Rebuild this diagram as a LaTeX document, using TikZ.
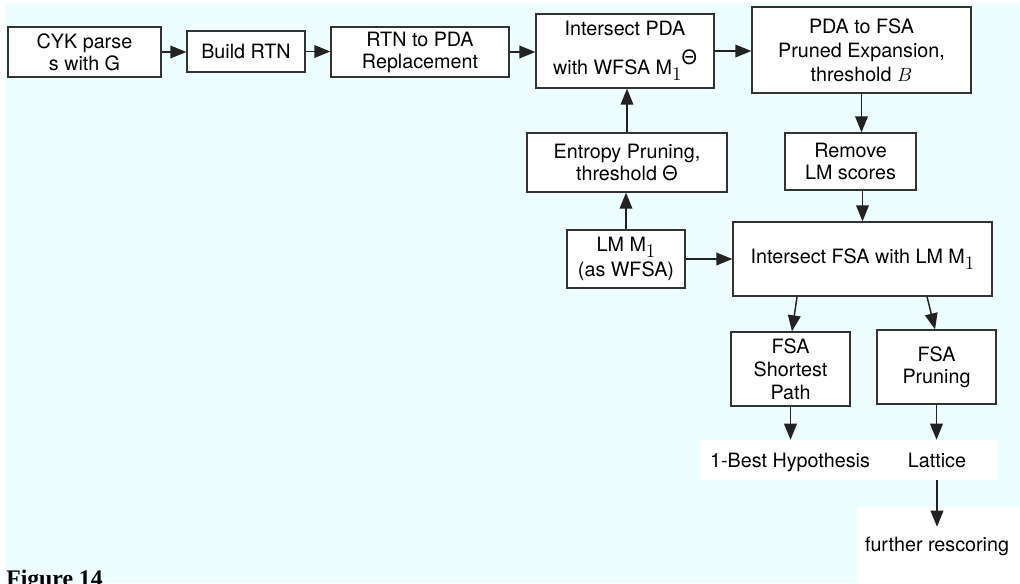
\documentclass[tikz,border=0pt]{standalone}
\usepackage{fontspec}
\setmainfont{TeX Gyre Heros}
\newfontfamily\figfont{Liberation Serif}
\usetikzlibrary{arrows.meta,calc}
\definecolor{bgc}{RGB}{238,254,255}
\definecolor{lc}{RGB}{51,51,51}
\definecolor{ac}{RGB}{34,34,34}
\newcommand\subone{\raisebox{-4.5pt}{$1$}}
\begin{document}
\begin{tikzpicture}[x=0.75pt,y=-0.75pt,
  box/.style={draw=lc,line width=1pt,fill=white,align=center,inner sep=0pt,font=\fontsize{14.8}{16.5}\selectfont},
  arr/.style={draw=ac,line width=1.1pt,-{Triangle[length=12pt,width=9.5pt]}},
  txt/.style={align=center,inner sep=0pt,font=\fontsize{14.8}{16.5}\selectfont}]
\useasboundingbox (0,0) rectangle (1020,583);
\clip (0,0) rectangle (1020,583);
\fill[bgc] (5,3) rectangle (1020,583);

% boxes
\node[box,minimum width=114.75pt,minimum height=37.5pt] (cyk) at (84.5,52) {CYK parse\\s with G};
\node[box,minimum width=88.5pt,minimum height=30.75pt] (build) at (246,51.5) {Build RTN};
\node[box,minimum width=133.5pt,minimum height=37.5pt] (rtn) at (420,52) {RTN to PDA\\Replacement};
\node[box,minimum width=133.5pt,minimum height=55.5pt] (ipda) at (625,51) {Intersect PDA\\[9.75pt]with WFSA M\subone\raisebox{7.5pt}{Θ}};
\node[box,minimum width=164.25pt,minimum height=64.5pt] (pfsa) at (861.5,50) {PDA to FSA\\[1.5pt]Pruned Expansion,\\[1.5pt]threshold $B$};
\node[box,minimum width=150pt,minimum height=44.25pt] (ent) at (627,162.5) {Entropy Pruning,\\threshold Θ};
\node[box,minimum width=98.25pt,minimum height=42.75pt] (rem) at (850.5,161.5) {Remove\\LM scores};
\node[box,minimum width=88.5pt,minimum height=43.5pt] (lm) at (626,259) {LM M\subone\\[2.25pt](as WFSA)};
\node[box,minimum width=194.25pt,minimum height=55.5pt] (ifsa) at (862.5,259) {Intersect FSA with LM M\subone};
\node[box,minimum width=89.25pt,minimum height=55.5pt] (fsp) at (790.5,369) {FSA\\[0.75pt]Shortest\\[0.75pt]Path};
\node[box,minimum width=89.25pt,minimum height=55.5pt] (fpr) at (936.5,367) {FSA\\Pruning};

% outputs
\node[fill=white,inner sep=0pt,minimum width=222pt,minimum height=30pt] (outs) at (849,460) {};
\node[txt,anchor=base] (best) at (790,467) {1-Best Hypothesis};
\node[txt,anchor=base] (lat) at (937,467) {Lattice};
\fill[white] (857,507) rectangle (1020,583);
\node[txt,anchor=base,text height=18pt,text depth=0pt] (fur) at (937,551) {further rescoring};

% caption
\node[anchor=base west,inner sep=0pt,font=\figfont\bfseries\fontsize{17.8}{20}\selectfont] (fig) at (6,586) {Figure 14};

% connectors
\draw[arr] (cyk.east) -- (cyk.east -| build.west);
\draw[arr] (build.east) -- (build.east -| rtn.west);
\draw[arr] (rtn.east) -- (rtn.east -| ipda.west);
\draw[arr] (ipda.east) -- (ipda.east -| pfsa.west);
\draw[arr] (pfsa.south) -- (pfsa.south |- rem.north);
\draw[arr] (rem.south -| ifsa.north) -- (ifsa.north);
\draw[arr] (ent.north) -- (ent.north |- ipda.south);
\draw[arr] (lm.north) -- (lm.north |- ent.south);
\draw[arr] (lm.east) -- (lm.east -| ifsa.west);
\draw[arr] ([xshift=-49.1pt]ifsa.south) -- ([xshift=1.1pt]fsp.north);
\draw[arr] ([xshift=48.4pt]ifsa.south) -- ([xshift=-1.1pt]fpr.north);
\draw[arr] (fsp.south) -- (fsp.south |- outs.north);
\draw[arr] (fpr.south) -- (fpr.south |- outs.north);
\draw[arr] (lat |- outs.south) -- (fur.north);
\end{tikzpicture}
\end{document}
